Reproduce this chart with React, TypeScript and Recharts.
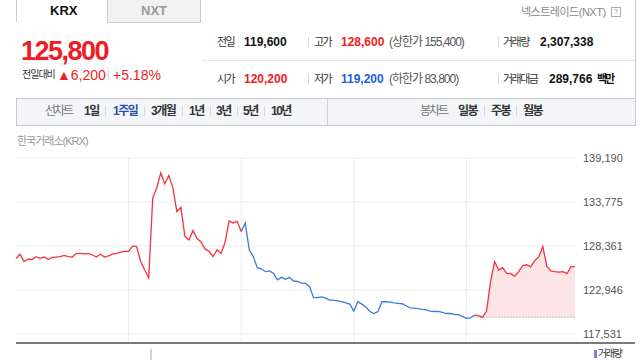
import React from "react";
import { ComposedChart, Line, Area, XAxis, YAxis, CartesianGrid, ReferenceLine } from "recharts";

// intraday prices, one week, 28 samples per session
const day1 = [126800, 127350, 126450, 126750, 126700, 127050, 126850, 127000, 126700, 126950, 127000, 127050, 127200, 127050, 127000, 127450, 127450, 127400, 127450, 127250, 127000, 127350, 127000, 127150, 127350, 127450, 127600, 127700];
const day2 = [127700, 128350, 128300, 126450, 125400, 124450, 134250, 135500, 137350, 136000, 137050, 135550, 132600, 133100, 129550, 129100, 130250, 129300, 128850, 128000, 127700, 127050, 127900, 127450, 128850, 131450, 131200, 131400];
const day3 = [130150, 131200, 127900, 127050, 125700, 125550, 125200, 125300, 125000, 124200, 124500, 124250, 124500, 124050, 124000, 123800, 123750, 123350, 122000, 122000, 122100, 121950, 121700, 121700, 121600, 121500, 121350, 121200];
const day4 = [120350, 121500, 121200, 120850, 120300, 120050, 120300, 121500, 121500, 121450, 121350, 121300, 121250, 121000, 120750, 120700, 120650, 120550, 120500, 120350, 120300, 120300, 120200, 120050, 120050, 119950, 119900, 119700];
const day5 = [119450, 119500, 119850, 119800, 119600, 120350, 123950, 126450, 125400, 125700, 125000, 124950, 124650, 125200, 125950, 126050, 125800, 126550, 127050, 128300, 125850, 125300, 125200, 125150, 125200, 124950, 125850, 125800];
const dayTrend = ["up", "up", "down", "down", "today"];
const prevClose = 119600;
const todayFrom = 114;
const dayStarts = [28, 56, 84, 112];
const yTicks = [117531, 122946, 128361, 133775, 139190];

const prices = [...day1, ...day2, ...day3, ...day4, ...day5];
const side = prices.map((p, i) => {
  const t = dayTrend[Math.floor(i / 28)];
  if (t === "today") return p >= prevClose ? "up" : "down";
  return t;
});
const rows = prices.map((p, i) => ({
  i,
  up: side[i] === "up" || (i > 0 && side[i - 1] === "up") ? p : null,
  down: side[i] === "down" || (i > 0 && side[i - 1] === "down") ? p : null,
  today: i >= todayFrom ? p : null,
}));

const RED = "#ee1c25";
const BLUE = "#1a5fe0";

function Txt({ x, y, size = 12, color = "#333", bold = false, ls = 0, children, style = {} }: any) {
  return (
    <span style={{ position: "absolute", left: x, top: y, transform: "translateY(-50%)", fontSize: size, lineHeight: 1, color, fontWeight: bold ? "bold" : "normal", letterSpacing: ls, whiteSpace: "nowrap", ...style }}>
      {children}
    </span>
  );
}

// label in the info table / period bar
const Lbl = (p: any) => <Txt size={11} ls={-1.5} {...p} />;
const Per = (p: any) => <Txt bold ls={-1.5} {...p} />;

function Bar({ x, y }: any) {
  return <span style={{ position: "absolute", left: x, top: y - 5, width: 1, height: 10, background: "#d8d8d8" }} />;
}

export default function App() {
  const fmt = (v: number) => v.toLocaleString("en-US");
  return (
    <div style={{ position: "absolute", left: 0, top: 0, width: 640, height: 360, background: "#fff", overflow: "hidden", fontFamily: "'Liberation Sans', 'Noto Sans CJK KR', sans-serif" }}>
      {/* tabs */}
      <div style={{ position: "absolute", left: 16, top: 0, width: 91, height: 22, borderLeft: "1px solid #ccc" }} />
      <div style={{ position: "absolute", left: 107, top: 0, width: 92, height: 22, background: "#f2f2f2", border: "1px solid #ccc", borderTop: "none" }} />
      <Txt x={50} y={10} size={13} bold color="#111">KRX</Txt>
      <Txt x={141} y={10} size={13} bold color="#999">NXT</Txt>
      <div style={{ position: "absolute", left: 635, top: 0, width: 1, height: 125, background: "#ccc" }} />
      <Txt x={521} y={12} size={11} ls={-0.5} color="#888">넥스트레이드(NXT)</Txt>
      <span style={{ position: "absolute", left: 611, top: 7, width: 8, height: 8, border: "1px solid #aaa", fontSize: 7, lineHeight: "8px", textAlign: "center", color: "#888" }}>?</span>

      {/* price */}
      <Txt x={21} y={51} size={27} bold color={RED} ls={-1.5}>125,800</Txt>
      <Txt x={22} y={75} size={10} ls={-1} color="#333">전일대비</Txt>
      <Txt x={57} y={75} size={14} color={RED}>▲6,200</Txt>
      <Bar x={108} y={75} />
      <Txt x={113} y={75} size={14} color={RED}>+5.18%</Txt>

      {/* info table */}
      <div style={{ position: "absolute", left: 202, top: 60, width: 433, height: 1, background: "#e4e4e4" }} />
      <Lbl x={217} y={42}>전일</Lbl>
      <Txt x={244} y={42} bold color="#111">119,600</Txt>
      <Lbl x={217} y={79}>시가</Lbl>
      <Txt x={244} y={79} bold color={RED}>120,200</Txt>
      <Bar x={308} y={42} />
      <Bar x={308} y={79} />
      <Lbl x={314} y={42}>고가</Lbl>
      <Txt x={341} y={42} bold color={RED}>128,600</Txt>
      <Txt x={389} y={42} ls={-1} color="#555">(상한가 155,400)</Txt>
      <Lbl x={314} y={79}>저가</Lbl>
      <Txt x={341} y={79} bold color={BLUE}>119,200</Txt>
      <Txt x={389} y={79} ls={-1} color="#555">(하한가 83,800)</Txt>
      <Bar x={498} y={42} />
      <Bar x={498} y={79} />
      <Lbl x={503} y={42}>거래량</Lbl>
      <Txt x={540} y={42} bold color="#111">2,307,338</Txt>
      <Lbl x={503} y={79}>거래대금</Lbl>
      <Txt x={549} y={79} bold color="#111">289,766</Txt>
      <Txt x={597} y={79} size={11} ls={-2} bold color="#111">백만</Txt>

      {/* period bar */}
      <div style={{ position: "absolute", left: 16, top: 98, width: 618, height: 26, background: "#f4f5f8", border: "1px solid #c8c8c8" }} />
      <div style={{ position: "absolute", left: 327, top: 98, width: 1, height: 27, background: "#d0d0d0" }} />
      <Txt x={45} y={111} ls={-2} color="#777">선차트</Txt>
      <Per x={84} y={111}>1일</Per>
      <Bar x={105} y={111} />
      <Per x={113} y={111} color="#2850a8">1주일</Per>
      <Bar x={144} y={111} />
      <Per x={151} y={111}>3개월</Per>
      <Bar x={182} y={111} />
      <Per x={189} y={111}>1년</Per>
      <Bar x={210} y={111} />
      <Per x={216} y={111}>3년</Per>
      <Bar x={237} y={111} />
      <Per x={243} y={111}>5년</Per>
      <Bar x={264} y={111} />
      <Per x={271} y={111}>10년</Per>
      <Txt x={420} y={111} ls={-2} color="#777">봉차트</Txt>
      <Per x={458} y={111}>일봉</Per>
      <Bar x={484} y={111} />
      <Per x={491} y={111}>주봉</Per>
      <Bar x={516} y={111} />
      <Per x={523} y={111}>월봉</Per>

      <Txt x={17} y={141} size={11} ls={-1} color="#999">한국거래소(KRX)</Txt>

      {/* chart */}
      <div style={{ position: "absolute", left: 0, top: 150 }}>
        <ComposedChart width={640} height={210} data={rows} margin={{ top: 8, right: 15, bottom: 17, left: 16 }}>
          <CartesianGrid vertical={false} stroke="#ececec" />
          <XAxis dataKey="i" type="number" domain={[0, 139]} hide />
          <YAxis
            orientation="right"
            type="number"
            domain={[116420, 139190]}
            ticks={yTicks}
            allowDataOverflow
            width={50}
            axisLine={false}
            tickLine={false}
            tickSize={6}
            tickMargin={2}
            tickFormatter={fmt}
            tick={{ fill: "#555", fontSize: 11 }}
            interval={0}
          />
          {dayStarts.map((d) => (
            <ReferenceLine key={d} x={d} stroke="#ececec" />
          ))}
          <Area dataKey="today" baseValue={prevClose} stroke="none" fill="#fde4e6" fillOpacity={1} isAnimationActive={false} connectNulls={false} />
          <ReferenceLine segment={[{ x: todayFrom, y: prevClose }, { x: 139, y: prevClose }]} stroke="#888" strokeDasharray="1 2" />
          <Line dataKey="down" stroke="#3a7be0" strokeWidth={1.3} dot={false} isAnimationActive={false} connectNulls={false} />
          <Line dataKey="up" stroke="#f4333d" strokeWidth={1.3} dot={false} isAnimationActive={false} connectNulls={false} />
        </ComposedChart>
      </div>
      <div style={{ position: "absolute", left: 16, top: 342, width: 619, height: 2, background: "#7a7a7a" }} />
      <div style={{ position: "absolute", left: 150, top: 349, width: 2, height: 11, background: "#d4d4d4" }} />
      <div style={{ position: "absolute", left: 594, top: 350, width: 3, height: 8, background: "#8e79d6" }} />
      <Txt x={598} y={354} size={10} ls={-1.5} color="#333">거래량</Txt>
    </div>
  );
}
